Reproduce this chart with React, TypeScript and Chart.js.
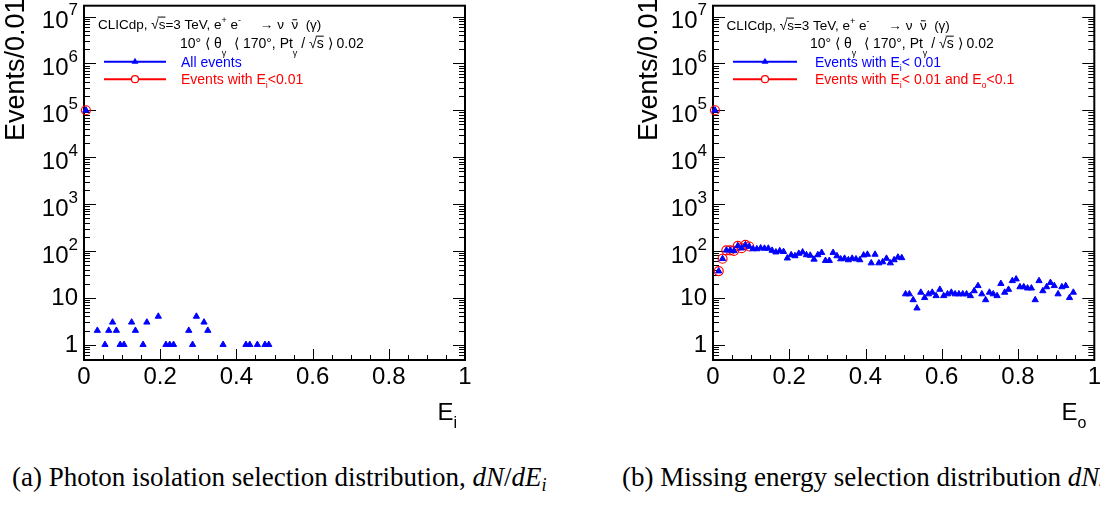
import React, { useEffect, useRef } from "react";
import { Chart, registerables } from "chart.js";
Chart.register(...registerables);

const FONT = '"Liberation Sans", Arial, Helvetica, sans-serif';

// axis ranges and tick labels
const X_RANGE = [0, 1];
const Y_RANGE = [0.47, 1.7e7];
const X_MAJOR = [0, 0.2, 0.4, 0.6, 0.8, 1];
const X_LABELS = ["0", "0.2", "0.4", "0.6", "0.8", "1"];
const Y_MAJOR = [1, 10, 100, 1e3, 1e4, 1e5, 1e6, 1e7];
const Y_LABEL_BASE = ["1", "10", "10", "10", "10", "10", "10", "10"];
const Y_LABEL_EXP = ["", "", "2", "3", "4", "5", "6", "7"];
const Y_TITLE = "Events/0.01";

// (a) photon isolation E_i
const EI_ALL_X = [0.005, 0.035, 0.055, 0.065, 0.075, 0.085, 0.095, 0.105, 0.125, 0.135, 0.155, 0.165, 0.195, 0.215, 0.225, 0.235, 0.275, 0.285, 0.295, 0.315, 0.325, 0.365, 0.425, 0.435, 0.455, 0.475, 0.485];
const EI_ALL_Y = [100000, 2, 1, 2, 3, 2, 1, 1, 3, 2, 1, 3, 4, 1, 1, 1, 2, 1, 4, 3, 2, 1, 1, 1, 1, 1, 1];
const EI_SEL_X = [0.005];
const EI_SEL_Y = [100000];

// (b) missing energy E_o
const EO_ALL_X = [
  0.005, 0.015, 0.025, 0.035, 0.045, 0.055, 0.065, 0.075, 0.085, 0.095,
  0.105, 0.115, 0.125, 0.135, 0.145, 0.155, 0.165, 0.175, 0.185, 0.195,
  0.205, 0.215, 0.225, 0.235, 0.245, 0.255, 0.265, 0.275, 0.285, 0.295,
  0.305, 0.315, 0.325, 0.335, 0.345, 0.355, 0.365, 0.375, 0.385, 0.395,
  0.405, 0.415, 0.425, 0.435, 0.445, 0.455, 0.465, 0.475, 0.485, 0.495,
  0.505, 0.515, 0.525, 0.535, 0.545, 0.555, 0.565, 0.575, 0.585, 0.595,
  0.605, 0.615, 0.625, 0.635, 0.645, 0.655, 0.665, 0.675, 0.685, 0.695,
  0.705, 0.715, 0.725, 0.735, 0.745, 0.755, 0.765, 0.775, 0.785, 0.795,
  0.805, 0.815, 0.825, 0.835, 0.845, 0.855, 0.865, 0.875, 0.885, 0.895,
  0.905, 0.915, 0.925, 0.935, 0.945,
];
const EO_ALL_Y = [
  100000, 37, 68, 103, 103, 100, 128, 114, 134, 124,
  110, 110, 115, 113, 113, 102, 94, 100, 96, 70,
  82, 78, 88, 94, 82, 80, 66, 82, 92, 62,
  62, 92, 78, 67, 69, 64, 69, 67, 64, 81,
  84, 55, 84, 55, 58, 69, 55, 64, 73, 71,
  12, 12, 9, 6, 13, 10, 12, 13, 11, 15,
  11, 12, 13, 12, 12, 12, 12, 11, 14, 18,
  12, 9, 13, 12, 11, 20, 13, 15, 23, 25,
  17, 17, 16, 16, 9, 23, 14, 17, 21, 18,
  12, 17, 18, 10, 13,
];
const EO_SEL_X = [0.005, 0.015, 0.025, 0.035, 0.045, 0.055, 0.065, 0.075, 0.085, 0.095];
const EO_SEL_Y = [100000, 37, 68, 103, 103, 100, 128, 114, 134, 124];

const BLUE = "#0000ff";
const RED = "#ff0000";

type Seg = { t: string; s?: number; dy?: number; over?: boolean; bar?: boolean };

function drawRich(ctx: CanvasRenderingContext2D, x: number, y: number, segs: Seg[], base: number, color: string, align: "left" | "right" = "left") {
  ctx.save();
  ctx.fillStyle = color;
  ctx.strokeStyle = color;
  ctx.textAlign = "left";
  ctx.textBaseline = "alphabetic";
  const widths = segs.map((sg) => {
    ctx.font = `${sg.s ?? base}px ${FONT}`;
    return ctx.measureText(sg.t).width;
  });
  const total = widths.reduce((a, b) => a + b, 0);
  let cx = align === "right" ? x - total : x;
  segs.forEach((sg, i) => {
    const size = sg.s ?? base;
    ctx.font = `${size}px ${FONT}`;
    const by = y + (sg.dy ?? 0);
    ctx.fillText(sg.t, cx, by);
    const w = widths[i];
    ctx.lineWidth = 1;
    if (sg.over) {
      ctx.beginPath();
      ctx.moveTo(cx - 1, by - size * 0.86);
      ctx.lineTo(cx + w, by - size * 0.86);
      ctx.stroke();
    }
    if (sg.bar) {
      ctx.beginPath();
      ctx.moveTo(cx + 1, by - size * 0.66);
      ctx.lineTo(cx + w - 1, by - size * 0.66);
      ctx.stroke();
    }
    cx += w;
  });
  ctx.restore();
  return total;
}

type Deco = {
  header1Dx: number;
  header1Dy: number;
  header2Dx: number;
  legendX0: number;
  legendX1: number;
  legendTextDx: number;
  legend: { color: string; marker: "tri" | "circ"; segs: Seg[] }[];
  xTitle: Seg[];
  yTitleX: number;
};

const HEADER1: Seg[] = [
  { t: "CLICdp, " },
  { t: "√" },
  { t: "s", over: true },
  { t: "=3 TeV, e" },
  { t: "+", s: 9, dy: -6 },
  { t: " e" },
  { t: "-", s: 9, dy: -6 },
  { t: "     → ν  " },
  { t: "ν", bar: true },
  { t: "  (γ)" },
];
const HEADER2: Seg[] = [
  { t: "10° ⟨ θ" },
  { t: "γ", s: 9, dy: 8 },
  { t: "  ⟨ 170°, Pt" },
  { t: "γ", s: 9, dy: 8 },
  { t: " / " },
  { t: "√" },
  { t: "s", over: true },
  { t: " ⟩ 0.02" },
];

function makePlugin(d: Deco) {
  return {
    id: "rootDeco",
    beforeDatasetsDraw(chart: any) {
      const { ctx, chartArea: a, scales } = chart;
      const xs = scales.x;
      const ys = scales.y;
      ctx.save();
      ctx.strokeStyle = "#000";
      ctx.lineWidth = 1;
      // y ticks (left and right, inside)
      for (let dec = 0.1; dec <= 1e7; dec *= 10) {
        for (let m = 1; m <= 9; m++) {
          const v = Math.round(m * dec * 1e6) / 1e6;
          if (v < Y_RANGE[0] || v > Y_RANGE[1]) continue;
          const py = Math.round(ys.getPixelForValue(v)) + 0.5;
          const len = m === 1 ? 12 : 6;
          ctx.beginPath();
          ctx.moveTo(a.left, py);
          ctx.lineTo(a.left + len, py);
          ctx.moveTo(a.right, py);
          ctx.lineTo(a.right - len, py);
          ctx.stroke();
        }
      }
      // x ticks (bottom, inside)
      for (let k = 0; k <= 20; k++) {
        const v = k * 0.05;
        const px = Math.round(xs.getPixelForValue(v)) + 0.5;
        const len = k % 4 === 0 ? 11 : 5;
        ctx.beginPath();
        ctx.moveTo(px, a.bottom);
        ctx.lineTo(px, a.bottom - len);
        ctx.stroke();
      }
      // frame
      ctx.lineWidth = 2;
      ctx.strokeRect(a.left, a.top, a.right - a.left, a.bottom - a.top);

      // y labels
      ctx.fillStyle = "#000";
      ctx.textBaseline = "middle";
      ctx.textAlign = "right";
      Y_MAJOR.forEach((v, i) => {
        const py = ys.getPixelForValue(v);
        const xr = a.left - 6;
        const exp = Y_LABEL_EXP[i];
        if (!exp) {
          ctx.font = `24px ${FONT}`;
          ctx.fillText(Y_LABEL_BASE[i], xr, py + 1);
        } else {
          ctx.font = `17px ${FONT}`;
          const sw = ctx.measureText(exp).width;
          ctx.fillText(exp, xr, py - 6);
          ctx.font = `24px ${FONT}`;
          ctx.fillText(Y_LABEL_BASE[i], xr - sw, py + 5);
        }
      });
      // x labels
      ctx.textAlign = "center";
      ctx.font = `24px ${FONT}`;
      X_MAJOR.forEach((v, i) => {
        ctx.fillText(X_LABELS[i], xs.getPixelForValue(v), a.bottom + 17);
      });
      // y title
      ctx.save();
      ctx.translate(d.yTitleX, 141);
      ctx.rotate(-Math.PI / 2);
      ctx.textAlign = "left";
      ctx.textBaseline = "middle";
      ctx.font = `27px ${FONT}`;
      ctx.fillText(Y_TITLE, 0, 0);
      ctx.restore();
      // x title
      drawRich(ctx, a.right - 8, a.bottom + 60, d.xTitle, 24, "#000", "right");

      // header texts
      drawRich(ctx, a.left + d.header1Dx, a.top + d.header1Dy, HEADER1, 13.5, "#000");
      drawRich(ctx, a.left + d.header2Dx, a.top + 42.5, HEADER2, 14, "#000");

      // legend
      d.legend.forEach((L, i) => {
        const ly = a.top + 56 + i * 17.5;
        ctx.strokeStyle = L.color;
        ctx.fillStyle = L.color;
        ctx.lineWidth = 2;
        ctx.beginPath();
        ctx.moveTo(a.left + d.legendX0, ly);
        ctx.lineTo(a.left + d.legendX1, ly);
        ctx.stroke();
        const mx = (a.left + d.legendX0 + a.left + d.legendX1) / 2;
        if (L.marker === "tri") {
          const r = 4;
          ctx.beginPath();
          ctx.moveTo(mx, ly - r);
          ctx.lineTo(mx + r * 0.866, ly + r * 0.5);
          ctx.lineTo(mx - r * 0.866, ly + r * 0.5);
          ctx.closePath();
          ctx.fill();
        } else {
          ctx.lineWidth = 1.2;
          ctx.fillStyle = "#fff";
          ctx.beginPath();
          ctx.arc(mx, ly, 3.5, 0, Math.PI * 2);
          ctx.fill();
          ctx.stroke();
        }
        drawRich(ctx, a.left + d.legendTextDx, ly + 5, L.segs, 14, L.color);
      });
      ctx.restore();
    },
  };
}

function makeChart(canvas: HTMLCanvasElement, padLeft: number, padRight: number, allX: number[], allY: number[], selX: number[], selY: number[], labels: string[], deco: Deco) {
  return new Chart(canvas, {
    type: "scatter",
    data: {
      datasets: [
        {
          label: labels[0],
          data: allX.map((x, i) => ({ x, y: allY[i] })),
          pointStyle: "triangle",
          pointRadius: 3.6,
          backgroundColor: BLUE,
          borderColor: BLUE,
          borderWidth: 1,
          showLine: false,
          clip: false,
        } as any,
        {
          label: labels[1],
          data: selX.map((x, i) => ({ x, y: selY[i] })),
          pointStyle: "circle",
          pointRadius: 4.5,
          backgroundColor: "rgba(0,0,0,0)",
          borderColor: RED,
          borderWidth: 1.2,
          showLine: false,
          clip: false,
        } as any,
      ],
    },
    options: {
      animation: false,
      responsive: false,
      maintainAspectRatio: false,
      events: [],
      layout: { padding: { left: padLeft, right: padRight, top: 4, bottom: 70 } },
      scales: {
        x: { type: "linear", min: X_RANGE[0], max: X_RANGE[1], display: false },
        y: { type: "logarithmic", min: Y_RANGE[0], max: Y_RANGE[1], display: false },
      },
      plugins: { legend: { display: false }, tooltip: { enabled: false } },
    },
    plugins: [makePlugin(deco)],
  });
}

export default function App() {
  const leftRef = useRef<HTMLCanvasElement>(null);
  const rightRef = useRef<HTMLCanvasElement>(null);
  useEffect(() => {
    const c1 = makeChart(leftRef.current!, 84, 85, EI_ALL_X, EI_ALL_Y, EI_SEL_X, EI_SEL_Y, ["All events", "Events with Ei<0.01"], {
      header1Dx: 14,
      header1Dy: 23,
      header2Dx: 96,
      legendX0: 20,
      legendX1: 82,
      legendTextDx: 97,
      legend: [
        { color: BLUE, marker: "tri", segs: [{ t: "All events" }] },
        { color: RED, marker: "circ", segs: [{ t: "Events with E" }, { t: "i", s: 9, dy: 4 }, { t: "<0.01" }] },
      ],
      xTitle: [{ t: "E" }, { t: "i", s: 16, dy: 8 }],
      yTitleX: 17,
    });
    const c2 = makeChart(rightRef.current!, 163, 5.3, EO_ALL_X, EO_ALL_Y, EO_SEL_X, EO_SEL_Y, ["Events with Ei< 0.01", "Events with Ei< 0.01 and Eo<0.1"], {
      header1Dx: 13.5,
      header1Dy: 24,
      header2Dx: 97,
      legendX0: 20,
      legendX1: 84,
      legendTextDx: 102,
      legend: [
        { color: BLUE, marker: "tri", segs: [{ t: "Events with E" }, { t: "i", s: 9, dy: 4 }, { t: "< 0.01" }] },
        { color: RED, marker: "circ", segs: [{ t: "Events with E" }, { t: "i", s: 9, dy: 4 }, { t: "< 0.01 and E" }, { t: "o", s: 9, dy: 4 }, { t: "<0.1" }] },
      ],
      xTitle: [{ t: "E" }, { t: "o", s: 16, dy: 8 }],
      yTitleX: 100,
    });
    return () => {
      c1.destroy();
      c2.destroy();
    };
  }, []);
  const cap: React.CSSProperties = {
    position: "absolute",
    top: 462,
    fontFamily: '"Liberation Serif", "Times New Roman", serif',
    fontSize: 27,
    whiteSpace: "nowrap",
    color: "#000",
    lineHeight: "30px",
  };
  const sub: React.CSSProperties = { fontSize: 18, verticalAlign: "-5px", lineHeight: 0 };
  return (
    <div style={{ position: "absolute", left: 0, top: 0, width: 1100, height: 505, overflow: "hidden", background: "#fff" }}>
      <canvas ref={leftRef} width={550} height={430} style={{ position: "absolute", left: 0, top: 0, width: 550, height: 430 }} />
      <canvas ref={rightRef} width={550} height={430} style={{ position: "absolute", left: 550, top: 0, width: 550, height: 430 }} />
      <div style={{ ...cap, left: 12 }}>
        (a) Photon isolation selection distribution, <i>dN</i>/<i>dE<sub style={sub}>i</sub></i>
      </div>
      <div style={{ ...cap, left: 622 }}>
        (b) Missing energy selection distribution <i>dN</i>/<i>dE<sub style={sub}>o</sub></i>
      </div>
    </div>
  );
}
